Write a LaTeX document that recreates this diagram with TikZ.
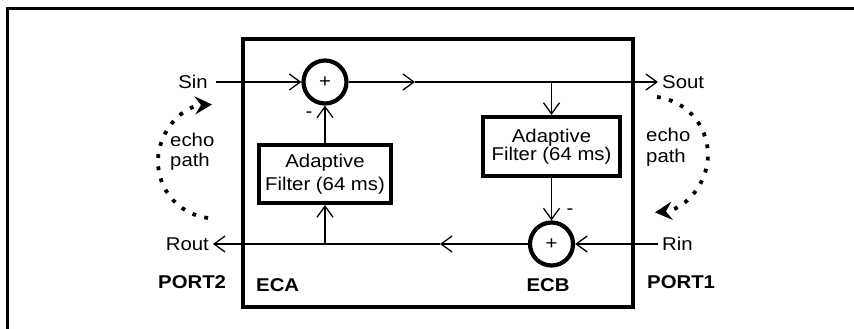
\documentclass[tikz,border=0pt]{standalone}
\usepackage{fontspec}
\setmainfont[FakeStretch=1.1]{Liberation Sans}
\usetikzlibrary{arrows.meta,positioning,calc}

\tikzset{
    txt/.style={inner sep=0pt, font=\fontsize{18.5}{16.5}\selectfont},
    btxt/.style={inner sep=0pt, font=\fontsize{18.5}{16.5}\selectfont\bfseries},
    sig/.style={line width=1.7pt, -{Straight Barb[length=11pt,width=16pt,line width=1.3pt]}},
    sumnode/.style={draw, circle, line width=4.2pt, minimum size=43pt, inner sep=0pt, font=\fontsize{18.5}{16.5}\selectfont},
    filterbox/.style={draw, line width=4.2pt, align=center, inner sep=0pt, font=\fontsize{18.5}{16.5}\selectfont},
    echoline/.style={line width=3.8pt, line cap=butt, dash pattern=on 3.8pt off 8.5pt, -{Stealth[length=17pt,width=18pt,inset=6pt]}}
}

\begin{document}
\begin{tikzpicture}[x=1pt,y=-1pt]
    % 回声消除框图
    \useasboundingbox (0,0) rectangle (854,329);
    \draw[line width=3pt] (7.5,329) -- (7.5,8.5) -- (854,8.5);
    \draw[line width=4pt] (242.5,39.5) rectangle (632.5,306.5);

    \node[sumnode] (sum1) at (325,82) {+};
    \node[sumnode] (sum2) at (551.5,244) {+};
    \node[filterbox, minimum width=132pt, minimum height=58pt] (fA) at (325,174) {Adaptive\\[5pt]Filter (64 ms)};
    \node[filterbox, minimum width=137pt, minimum height=59pt] (fB) at (551.5,146.5) {Adaptive\\Filter (64 ms)};

    \node[txt, inner xsep=8pt, anchor=east] (sin) at (216,82) {Sin};
    \node[txt, inner xsep=4pt, anchor=west] (sout) at (658,82) {Sout};
    \node[txt, inner xsep=4pt, anchor=east] (rout) at (213,244) {Rout};
    \node[txt, inner xsep=4pt, anchor=west] (rin) at (658,244) {Rin};
    \node[txt] (minus1) at (309,115) {-};
    \node[txt] (minus2) at (570,212) {-};

    \node[btxt, anchor=west] (eca) at (256,285) {ECA};
    \node[btxt] (ecb) at (548,285) {ECB};
    \node[btxt, anchor=west] (port2) at (158,282) {PORT2};
    \node[btxt, anchor=west] (port1) at (647,282) {PORT1};
    \node[txt, align=left, anchor=west, font=\fontsize{18.5}{20}\selectfont] (echoA) at (170,152) {echo\\path};
    \node[txt, align=left, anchor=west, font=\fontsize{18.5}{21}\selectfont] (echoB) at (646,147) {echo\\path};

    \coordinate (m1) at (415,82);
    \coordinate (br1) at (551.5,82);
    \coordinate (m2) at (440,244);
    \coordinate (br2) at (325,244);

    \draw[sig] (sin.east) -- (sum1.west);
    \draw[sig] (sum1.east) -- (m1);
    \draw[sig] (m1) -- (sout.west);
    \draw[sig, line width=1.1pt] (br1) -- (fB.north);
    \draw[sig] (fB.south) -- (sum2.north);
    \draw[sig] (rin.west) -- (sum2.east);
    \draw[sig] (sum2.west) -- (m2);
    \draw[sig] (m2) -- (rout.east);
    \draw[sig] (br2) -- (fA.south);
    \draw[sig] (fA.north) -- (sum1.south);

    \draw[echoline] (208,218) arc[start angle=97, end angle=267, radius=57];
    \draw[echoline] (657,97) arc[start angle=-83, end angle=85, radius=58];
\end{tikzpicture}
\end{document}
